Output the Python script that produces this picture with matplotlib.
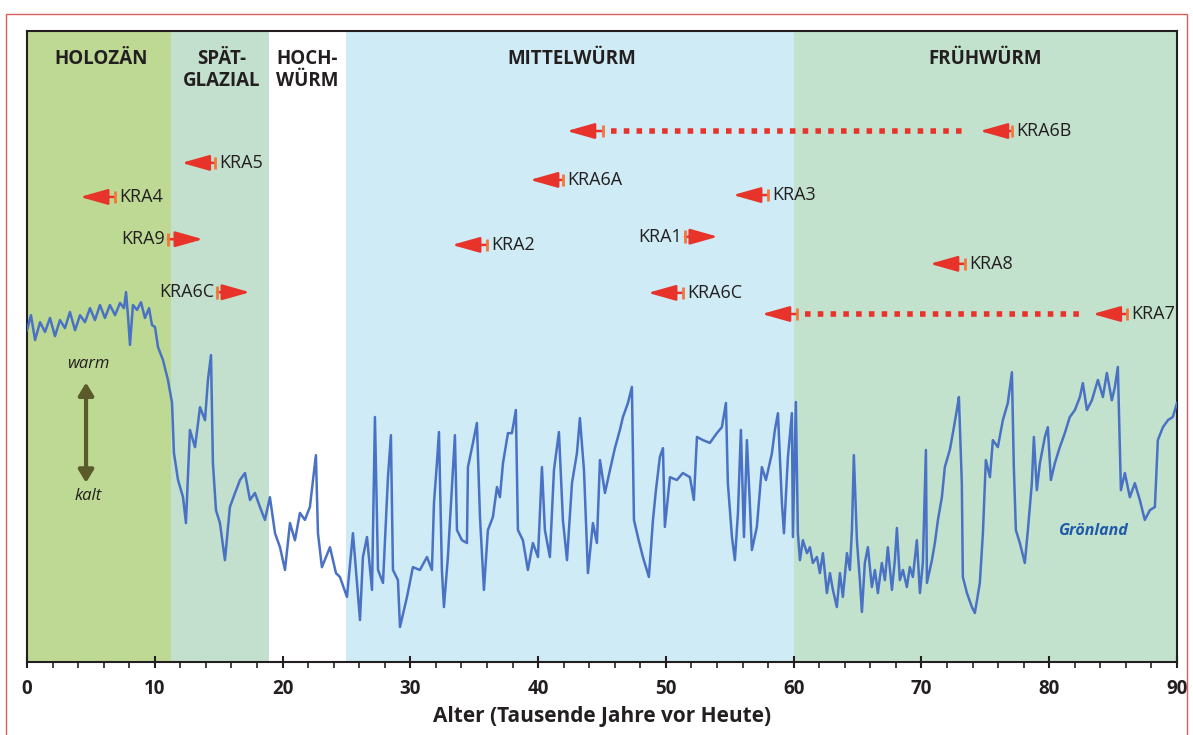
import matplotlib
matplotlib.use('Agg')
import matplotlib.pyplot as plt
from matplotlib.transforms import blended_transform_factory
from matplotlib.patches import Rectangle

plt.rcParams['font.family'] = ['Open Sans', 'DejaVu Sans']

# --- Périodes climatiques (ka) ---
PERIODS = ['HOLOZÄN', 'SPÄT-\nGLAZIAL', 'HOCH-\nWÜRM', 'MITTELWÜRM', 'FRÜHWÜRM']
PERIOD_START = [0, 11.3, 18.9, 25, 60]
PERIOD_END = [11.3, 18.9, 25, 60, 90]
PERIOD_COLORS = ['#bdd994', '#c2e0cd', '#ffffff', '#cfebf5', '#c3e2cd']
PERIOD_LABEL_X = [5.8, 15.2, 21.9, 42.6, 75.0]

# --- Courbe Grönland (delta18O) ---
AGE = [
    # 0 - 10 ka
    0.0, 0.31, 0.63, 1.02, 1.41, 1.8, 2.19, 2.58, 2.97, 3.36,
    3.76, 4.15, 4.54, 4.93, 5.32, 5.71, 6.1, 6.49, 6.89, 7.28,
    7.59, 7.75, 7.9, 8.06, 8.29, 8.61, 8.92, 9.23, 9.55, 9.78,
    # 10 - 25 ka
    10.02, 10.25, 10.64, 11.03, 11.35, 11.5, 11.82, 12.21, 12.44, 12.75,
    13.15, 13.54, 13.93, 14.16, 14.4, 14.55, 14.79, 15.1, 15.49, 15.88,
    16.28, 16.67, 17.06, 17.45, 17.84, 18.23, 18.62, 19.01, 19.41, 19.8,
    20.19, 20.58, 20.97, 21.36, 21.75, 22.14, 22.61, 22.77, 23.08, 23.71,
    24.18, 24.49,
    # 25 - 60 ka
    25.04, 25.51, 26.06, 26.29, 26.61, 27.0, 27.23, 27.47, 27.86, 28.25,
    28.48, 28.64, 29.03, 29.19, 29.74, 30.2, 30.75, 31.3, 31.69, 31.85,
    32.08, 32.24, 32.47, 32.63, 32.94, 33.26, 33.49, 33.65, 34.04, 34.43,
    34.51, 34.9, 35.21, 35.45, 35.76, 36.07, 36.46, 36.78, 37.01, 37.25,
    37.64, 37.95, 38.26, 38.42, 38.81, 39.2, 39.59, 39.99, 40.3, 40.53,
    40.92, 41.24, 41.63, 41.94, 42.26, 42.65, 43.04, 43.27, 43.59, 43.9,
    44.29, 44.6, 44.84, 45.23, 45.62, 46.01, 46.4, 46.64, 47.03, 47.34,
    47.5, 47.81, 48.2, 48.67, 48.99, 49.22, 49.53, 49.77, 49.92, 50.32,
    50.86, 51.33, 51.88, 52.19, 52.43, 52.9, 53.44, 53.99, 54.38, 54.7,
    54.85, 55.17, 55.4, 55.64, 55.87, 56.11, 56.34, 56.57, 56.73, 57.12,
    57.51, 57.83, 58.3, 58.53, 58.77, 59.08, 59.24, 59.55, 59.86, 59.94,
    60.17,
    # 60 - 70 ka
    60.33, 60.49, 60.72, 61.04, 61.27, 61.5, 61.82, 62.05, 62.29, 62.6,
    62.84, 63.07, 63.38, 63.62, 63.85, 64.17, 64.4, 64.56, 64.71, 64.95,
    65.18, 65.34, 65.57, 65.81, 66.12, 66.36, 66.59, 66.9, 67.14, 67.37,
    67.69, 67.92, 68.08, 68.31, 68.55, 68.86, 69.09, 69.33, 69.64, 69.88,
    70.11,
    # 70 - 90 ka
    70.35, 70.43, 70.82, 71.05, 71.29, 71.6, 71.83, 72.22, 72.46, 72.77,
    72.93, 73.16, 73.24, 73.56, 73.95, 74.18, 74.57, 74.81, 75.04, 75.36,
    75.59, 75.98, 76.37, 76.76, 77.08, 77.23, 77.39, 77.7, 78.09, 78.33,
    78.64, 78.8, 79.03, 79.27, 79.66, 79.89, 80.13, 80.44, 80.83, 81.22,
    81.61, 82.01, 82.4, 82.63, 82.95, 83.34, 83.81, 84.2, 84.51, 84.9,
    85.14, 85.37, 85.61, 85.92, 86.31, 86.7, 87.09, 87.48, 87.88, 88.27,
    88.5, 88.9, 89.29, 89.67, 90.0,
]
D18O = [
    # 0 - 10 ka
    -35.29, -34.86, -35.57, -35.06, -35.34, -34.94, -35.46, -35.0, -35.23, -34.77,
    -35.29, -34.86, -35.06, -34.66, -35.0, -34.57, -34.94, -34.57, -34.86, -34.51,
    -34.66, -34.2, -34.86, -35.71, -34.57, -34.71, -34.49, -34.94, -34.66, -35.14,
    # 10 - 25 ka
    -35.2, -35.77, -36.14, -36.71, -37.37, -38.8, -39.57, -40.06, -40.8, -38.14,
    -38.63, -37.49, -37.86, -36.71, -36.0, -39.09, -40.43, -40.8, -41.86, -40.34,
    -39.94, -39.57, -39.37, -40.14, -39.94, -40.34, -40.71, -40.06, -41.09, -41.49,
    -42.14, -40.8, -41.29, -40.51, -40.71, -40.34, -38.86, -41.09, -42.06, -41.49,
    -42.23, -42.34,
    # 25 - 60 ka
    -42.91, -41.09, -43.57, -41.77, -41.2, -42.71, -37.77, -42.14, -42.51, -39.49,
    -38.29, -42.14, -42.43, -43.77, -42.91, -42.06, -42.14, -41.77, -42.14, -40.23,
    -39.09, -38.2, -42.14, -43.2, -41.77, -39.77, -38.29, -41.0, -41.29, -41.37,
    -39.2, -38.51, -37.94, -40.63, -42.71, -41.0, -40.63, -39.77, -40.06, -39.09,
    -38.23, -38.23, -37.57, -41.0, -41.29, -42.14, -41.37, -41.77, -39.2, -41.0,
    -41.77, -39.29, -38.2, -40.71, -41.86, -39.66, -38.8, -37.8, -39.29, -42.23,
    -40.8, -41.37, -39.0, -39.94, -39.29, -38.66, -38.14, -37.77, -37.37, -36.91,
    -40.71, -41.2, -41.77, -42.34, -40.71, -39.86, -38.91, -38.66, -40.91, -39.49,
    -39.57, -39.37, -39.49, -40.14, -38.34, -38.43, -38.51, -38.23, -38.06, -37.37,
    -39.66, -41.2, -41.86, -40.51, -38.14, -41.2, -38.43, -40.23, -41.57, -40.91,
    -39.2, -39.57, -38.8, -38.14, -37.66, -40.23, -41.09, -38.91, -37.66, -41.2,
    -37.34,
    # 60 - 70 ka
    -41.09, -41.86, -41.29, -41.66, -41.49, -41.94, -41.77, -42.23, -41.66, -42.8,
    -42.23, -42.71, -43.2, -42.23, -42.91, -41.66, -42.14, -41.0, -38.86, -41.29,
    -42.43, -43.34, -41.94, -41.49, -42.63, -42.14, -42.8, -41.94, -42.43, -41.49,
    -42.71, -41.86, -40.94, -42.43, -42.14, -42.63, -42.06, -42.34, -41.29, -42.8,
    -41.94,
    # 70 - 90 ka
    -38.71, -42.51, -41.86, -41.37, -40.71, -40.06, -39.2, -38.71, -38.23, -37.57,
    -37.2, -39.66, -42.34, -42.8, -43.2, -43.37, -42.51, -41.09, -39.0, -39.49,
    -38.43, -38.63, -37.86, -37.37, -36.49, -39.2, -41.0, -41.37, -41.94, -41.0,
    -39.66, -38.34, -39.86, -39.09, -38.34, -38.06, -39.57, -39.09, -38.63, -38.23,
    -37.77, -37.57, -37.2, -36.8, -37.57, -37.29, -36.71, -37.2, -36.51, -37.29,
    -36.91, -36.34, -39.86, -39.37, -40.06, -39.66, -40.14, -40.71, -40.43, -40.34,
    -38.43, -38.06, -37.86, -37.77, -37.37,
]
assert len(AGE) == len(D18O)

# --- Datations KRA (pointe de flèche, talon) en ka ---
KRA_NAMES = ['KRA5', 'KRA4', 'KRA9', 'KRA6C', 'KRA6A', 'KRA2', 'KRA1', 'KRA6C', 'KRA3', 'KRA8']
KRA_TIP = [12.1, 4.15, 13.77, 17.45, 39.36, 33.26, 54.07, 48.6, 55.25, 70.66]
KRA_TAIL = [14.7, 6.9, 11.03, 14.87, 41.94, 36.0, 51.49, 51.33, 57.98, 73.4]
KRA_ROW = [0.791, 0.737, 0.670, 0.586, 0.764, 0.661, 0.674, 0.585, 0.740, 0.631]

# intervalles longs (pointillés)
RANGE_NAMES = ['KRA6B', 'KRA7']
RANGE_YOUNG_TIP = [42.25, 57.51]
RANGE_YOUNG_TAIL = [45.07, 60.25]
RANGE_OLD_TIP = [74.57, 83.4]
RANGE_OLD_TAIL = [77.08, 86.07]
RANGE_ROW = [0.8415, 0.5515]

RED = '#e8332a'
ORANGE = '#f3773a'
DARK = '#231f20'
BLUE = '#4a72c4'


def kra_arrow(ax, tr, tip, tail, y):
    ax.annotate('', xy=(tip, y), xytext=(tail, y), xycoords=tr, textcoords=tr,
                arrowprops=dict(arrowstyle='-|>,head_length=0.85,head_width=0.24',
                                color=RED, lw=1.8, shrinkA=0, shrinkB=0,
                                mutation_scale=20), zorder=5)
    ax.plot([tail, tail], [y - 0.010, y + 0.010], transform=tr, color=ORANGE,
            lw=2.0, solid_capstyle='butt', zorder=5)


def kra_label(ax, tr, name, tip, tail, y):
    if tip < tail:
        ax.annotate(name, xy=(tail, y), xycoords=tr, xytext=(3, 0),
                    textcoords='offset points', ha='left', va='center',
                    fontsize=13, color=DARK)
    else:
        ax.annotate(name, xy=(tail, y), xycoords=tr, xytext=(-2, 0),
                    textcoords='offset points', ha='right', va='center',
                    fontsize=13, color=DARK)


fig = plt.figure(figsize=(11.93, 7.35), dpi=100)
ax = fig.add_axes([27 / 1193, 1 - 662 / 735, 1150 / 1193, 631 / 735])
tr = blended_transform_factory(ax.transData, ax.transAxes)

for x0, x1, c in zip(PERIOD_START, PERIOD_END, PERIOD_COLORS):
    ax.axvspan(x0, x1, color=c, lw=0, zorder=0)

for name, xc in zip(PERIODS, PERIOD_LABEL_X):
    yy = 0.956 if '\n' not in name else 0.938
    ax.text(xc, yy, name, transform=tr, ha='center', va='center', fontsize=13.5,
            fontweight='bold', color=DARK, linespacing=1.1)

ax.plot(AGE, D18O, color=BLUE, lw=1.8, zorder=3)

for name, tip, tail, y in zip(KRA_NAMES, KRA_TIP, KRA_TAIL, KRA_ROW):
    kra_arrow(ax, tr, tip, tail, y)
    kra_label(ax, tr, name, tip, tail, y)

for i, name in enumerate(RANGE_NAMES):
    y = RANGE_ROW[i]
    kra_arrow(ax, tr, RANGE_YOUNG_TIP[i], RANGE_YOUNG_TAIL[i], y)
    kra_arrow(ax, tr, RANGE_OLD_TIP[i], RANGE_OLD_TAIL[i], y)
    ax.plot([RANGE_YOUNG_TAIL[i] + 0.6, RANGE_OLD_TIP[i] - 1.0], [y, y], transform=tr,
            color=RED, lw=4.0, dashes=(1, 1.3), dash_capstyle='butt', zorder=4)
    kra_label(ax, tr, name, RANGE_OLD_TIP[i], RANGE_OLD_TAIL[i], y)

# warm / kalt
ax.annotate('', xy=(4.62, 0.443), xytext=(4.62, 0.284), xycoords=tr, textcoords=tr,
            arrowprops=dict(arrowstyle='<|-|>,head_length=0.5,head_width=0.3',
                            color='#5b5a2b', lw=3, shrinkA=0, shrinkB=0,
                            mutation_scale=15))
ax.text(4.77, 0.472, 'warm', transform=tr, ha='center', va='center',
        fontsize=12, style='italic', color=DARK)
ax.text(4.77, 0.263, 'kalt', transform=tr, ha='center', va='center',
        fontsize=12, style='italic', color=DARK)
ax.text(83.4, 0.2076, 'Grönland', transform=tr, ha='center', va='center',
        fontsize=11.5, style='italic', fontweight='bold', color='#1f5aa8')

ax.set_xlim(0, 90)
ax.set_ylim(-44.77, -26.74)
ax.set_yticks([])
ax.set_xticks(range(0, 91, 10))
ax.set_xticks(range(0, 91, 2), minor=True)
ax.tick_params(axis='x', which='major', direction='inout', length=9, width=1.5,
               labelsize=13.5, pad=8, colors=DARK)
ax.tick_params(axis='x', which='minor', direction='out', length=4, width=1.2, colors=DARK)
for lbl in ax.get_xticklabels():
    lbl.set_fontweight('bold')
ax.set_xlabel('Alter (Tausende Jahre vor Heute)', fontsize=15, fontweight='bold',
              color=DARK, labelpad=5)
for sp in ax.spines.values():
    sp.set_color(DARK)
    sp.set_linewidth(1.5)

# cadre extérieur
fig.patches.append(Rectangle((6 / 1193, -0.01), 1181 / 1193, 1.0005 - 7 / 735,
                             transform=fig.transFigure, fill=False,
                             edgecolor='#d9605a', lw=1))

plt.savefig('out.png', dpi=100)
plt.close()
